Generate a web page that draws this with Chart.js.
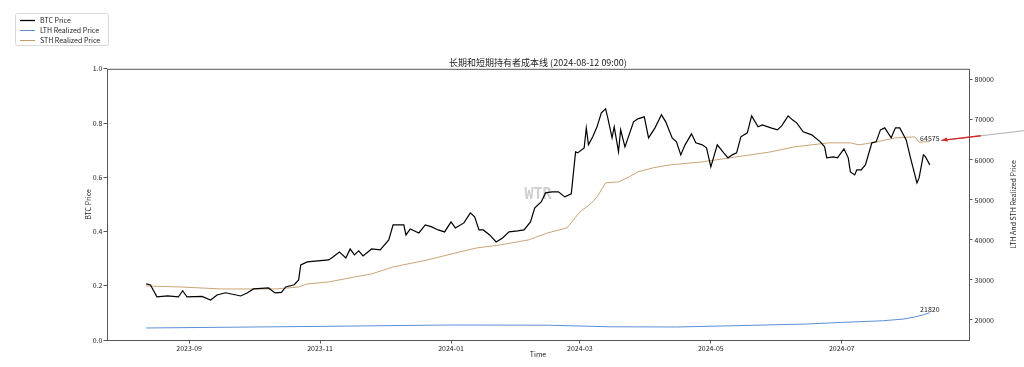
<!DOCTYPE html>
<html>
<head>
<meta charset="utf-8">
<script src="https://cdn.jsdelivr.net/npm/chart.js@4.4.1/dist/chart.umd.min.js"></script>
<style>
  body { margin: 0; background: #fff; }
  #wrap { width: 1024px; height: 367px; }
</style>
</head>
<body>
<div id="wrap"><canvas id="chart" width="1024" height="367"></canvas></div>
<script>
// BTC daily close (sampled)
const btcDates = [
  '2023-08-12','2023-08-14','2023-08-17','2023-08-22','2023-08-27','2023-08-29','2023-08-31','2023-09-07',
  '2023-09-11','2023-09-14','2023-09-18','2023-09-25','2023-09-28','2023-10-01','2023-10-08','2023-10-11',
  '2023-10-14','2023-10-16','2023-10-20','2023-10-22','2023-10-23','2023-10-26','2023-10-31','2023-11-05',
  '2023-11-07','2023-11-10','2023-11-13','2023-11-15','2023-11-17','2023-11-19','2023-11-21','2023-11-25',
  '2023-11-29','2023-12-03','2023-12-05','2023-12-10','2023-12-11','2023-12-13','2023-12-17','2023-12-20',
  '2023-12-23','2023-12-26','2023-12-29','2024-01-01','2024-01-03','2024-01-07','2024-01-10','2024-01-12',
  '2024-01-14','2024-01-16','2024-01-19','2024-01-22','2024-01-25','2024-01-28','2024-02-01','2024-02-04',
  '2024-02-07','2024-02-09','2024-02-12','2024-02-14','2024-02-17','2024-02-20','2024-02-23','2024-02-26',
  '2024-02-28','2024-02-29','2024-03-03','2024-03-04','2024-03-05','2024-03-07','2024-03-09','2024-03-11',
  '2024-03-13','2024-03-14','2024-03-16','2024-03-17','2024-03-19','2024-03-20','2024-03-22','2024-03-26',
  '2024-03-28','2024-03-31','2024-04-02','2024-04-05','2024-04-08','2024-04-10','2024-04-13','2024-04-15',
  '2024-04-17','2024-04-19','2024-04-22','2024-04-24','2024-04-27','2024-04-29','2024-05-01','2024-05-04',
  '2024-05-07','2024-05-09','2024-05-11','2024-05-13','2024-05-15','2024-05-18','2024-05-20','2024-05-23',
  '2024-05-25','2024-05-29','2024-06-01','2024-06-03','2024-06-06','2024-06-08','2024-06-10','2024-06-13',
  '2024-06-17','2024-06-21','2024-06-23','2024-06-24','2024-06-27','2024-06-29','2024-07-02','2024-07-04',
  '2024-07-05','2024-07-07','2024-07-08','2024-07-10','2024-07-12','2024-07-15','2024-07-17','2024-07-19',
  '2024-07-21','2024-07-24','2024-07-26','2024-07-28','2024-07-31','2024-08-02','2024-08-05','2024-08-06',
  '2024-08-08','2024-08-09','2024-08-11'
];
const btcValues = [
  29000,28750,25800,26000,25750,27300,25750,25900,
  25000,26250,26800,26000,26750,27750,28000,26750,
  26900,28250,28800,30000,33750,34500,34750,35000,
  35750,37000,35500,37750,36250,37250,36000,37750,
  37500,40000,43750,43750,41250,42750,41750,43750,
  43250,42500,42000,44500,43000,44250,46750,45750,
  42500,42500,41250,39500,40500,42000,42250,42500,
  44500,48000,49500,51750,52000,52000,50750,51500,
  62000,61750,63000,68000,63750,65750,68250,71750,
  72750,70500,65500,68250,62000,67500,63250,69500,
  70250,70750,65500,68000,71250,69500,65500,64500,
  61250,63750,66500,64250,63750,63000,58250,63750,
  61750,60500,61250,61750,65750,66750,71000,68250,
  68750,68000,67500,68500,71000,70000,69250,67000,
  66250,64500,63250,60500,60750,60500,62750,60500,
  57000,56250,57500,57500,58750,64250,64500,67500,
  68000,65500,68000,68000,65000,60500,54250,55500,
  61250,60750,58750
];

// Long-term holder realized price
const lthDates = ['2023-08-12','2023-11-01','2024-01-01','2024-02-15','2024-03-15','2024-04-15','2024-05-15',
  '2024-06-15','2024-07-01','2024-07-20','2024-07-30','2024-08-04','2024-08-08','2024-08-11'];
const lthValues = [18000,18400,18750,18700,18300,18250,18600,19000,19400,19800,20250,20750,21300,21820];

// Short-term holder realized price
const sthDates = ['2023-08-12','2023-08-28','2023-09-16','2023-09-30','2023-10-11','2023-10-17','2023-10-22',
  '2023-10-26','2023-11-05','2023-11-17','2023-11-25','2023-12-05','2023-12-21','2024-01-05','2024-01-13',
  '2024-01-24','2024-02-06','2024-02-15','2024-02-24','2024-02-27','2024-03-01','2024-03-06','2024-03-09',
  '2024-03-11','2024-03-13','2024-03-19','2024-03-24','2024-03-28','2024-04-04','2024-04-12','2024-04-27',
  '2024-05-13','2024-05-29','2024-06-09','2024-06-25','2024-07-05','2024-07-09','2024-07-15','2024-07-26',
  '2024-08-04','2024-08-06','2024-08-11'];
const sthValues = [28500,28250,27750,27750,27750,28000,28250,
  29000,29500,30750,31500,33250,35000,37000,38000,
  38750,40000,41750,43000,45000,47000,49000,50750,
  52500,54250,54500,55750,57000,58000,58750,59500,
  60750,62000,63250,64250,64250,63750,64250,65500,
  65750,64400,64575];

const xTickLabels = ['2023-09','2023-11','2024-01','2024-03','2024-05','2024-07'];
const yTicks = [0, 0.2, 0.4, 0.6, 0.8, 1.0];
const y1Ticks = [20000, 30000, 40000, 50000, 60000, 70000, 80000];

const seriesNames = ['BTC Price', 'LTH Realized Price', 'STH Realized Price'];
const seriesColors = ['#000000', '#5b8fd6', '#c49a66'];

const FONT = '"Noto Sans CJK SC", "DejaVu Sans", sans-serif';

const toDay = s => Date.UTC(+s.slice(0, 4), +s.slice(5, 7) - 1, +s.slice(8, 10)) / 86400000;
const toPoints = (dates, vals) => dates.map((d, i) => ({ x: toDay(d), y: vals[i] }));

const firstDay = toDay(btcDates[0]);
const lastDay = toDay(btcDates[btcDates.length - 1]);
const margin = (lastDay - firstDay) * 0.05;

// frame, legend, right axis title, watermark, end labels and arrow
const extras = {
  id: 'extras',
  beforeDatasetsDraw(chart) {
    const { ctx, chartArea: a } = chart;
    ctx.save();
    ctx.fillStyle = '#cfcfcf';
    ctx.font = 'bold 15px "DejaVu Sans Mono", monospace';
    ctx.textAlign = 'center';
    ctx.textBaseline = 'middle';
    ctx.fillText('WTR', (a.left + a.right) / 2, 195);
    ctx.restore();
  },
  afterDraw(chart) {
    const { ctx, chartArea: a, scales } = chart;
    ctx.save();
    // frame
    ctx.strokeStyle = '#555';
    ctx.lineWidth = 1;
    ctx.strokeRect(a.left + 0.5, a.top + 0.5, a.right - a.left, a.bottom - a.top);

    // legend
    ctx.fillStyle = '#fff';
    ctx.strokeStyle = '#d8d8d8';
    ctx.beginPath();
    ctx.roundRect(15.5, 13.5, 93, 32, 2);
    ctx.fill();
    ctx.stroke();
    ctx.font = '7px ' + FONT;
    ctx.textBaseline = 'middle';
    ctx.textAlign = 'left';
    seriesNames.forEach((name, i) => {
      const yy = 20.5 + i * 10;
      ctx.strokeStyle = seriesColors[i];
      ctx.lineWidth = i === 0 ? 1.3 : 1;
      ctx.beginPath();
      ctx.moveTo(20, yy);
      ctx.lineTo(35, yy);
      ctx.stroke();
      ctx.fillStyle = '#222';
      ctx.fillText(name, 40, yy);
    });

    // right axis title
    ctx.save();
    ctx.translate(1013, (a.top + a.bottom) / 2);
    ctx.rotate(-Math.PI / 2);
    ctx.textAlign = 'center';
    ctx.fillStyle = '#222';
    ctx.fillText('LTH And STH Realized Price', 0, 0);
    ctx.restore();

    // end labels
    const xs = scales.x, ys = scales.y1;
    const endLabel = (dates, vals) => {
      const px = xs.getPixelForValue(toDay(dates[dates.length - 1]));
      const py = ys.getPixelForValue(vals[vals.length - 1]);
      ctx.fillStyle = '#222';
      ctx.textAlign = 'center';
      ctx.textBaseline = 'bottom';
      ctx.fillText(String(vals[vals.length - 1]), px, py);
      return [px, py];
    };
    endLabel(lthDates, lthValues);
    const [sx, sy] = endLabel(sthDates, sthValues);

    // arrow pointing at the STH label
    const hx = sx + 11, hy = sy - 1;
    const tx = hx + 84, ty = hy - 10;
    ctx.strokeStyle = '#999';
    ctx.lineWidth = 0.8;
    ctx.beginPath();
    ctx.moveTo(hx, hy);
    ctx.lineTo(tx, ty);
    ctx.stroke();
    ctx.strokeStyle = '#d42a2a';
    ctx.lineWidth = 1.4;
    ctx.beginPath();
    ctx.moveTo(hx + 3, hy - 0.4);
    ctx.lineTo(hx + 40, hy - 4.8);
    ctx.stroke();
    ctx.fillStyle = '#d42a2a';
    ctx.beginPath();
    ctx.moveTo(hx, hy);
    ctx.lineTo(hx + 6, hy - 3);
    ctx.lineTo(hx + 7, hy + 1);
    ctx.closePath();
    ctx.fill();
    ctx.restore();
  }
};

const tickFont = { family: FONT, size: 7 };
const tickGrid = { drawOnChartArea: false, drawTicks: true, tickLength: 3.5, color: '#555' };

new Chart(document.getElementById('chart'), {
  type: 'line',
  data: {
    datasets: [
      { label: seriesNames[0], data: toPoints(btcDates, btcValues), borderColor: seriesColors[0], borderWidth: 1.2, yAxisID: 'y1' },
      { label: seriesNames[1], data: toPoints(lthDates, lthValues), borderColor: seriesColors[1], borderWidth: 1, yAxisID: 'y1' },
      { label: seriesNames[2], data: toPoints(sthDates, sthValues), borderColor: seriesColors[2], borderWidth: 0.9, yAxisID: 'y1' }
    ]
  },
  options: {
    responsive: false,
    animation: false,
    layout: { padding: 0 },
    elements: { point: { radius: 0 }, line: { tension: 0 } },
    plugins: {
      legend: { display: false },
      tooltip: { enabled: false },
      title: {
        display: true,
        text: '长期和短期持有者成本线 (2024-08-12 09:00)',
        fullSize: false,
        color: '#222',
        font: { family: FONT, size: 9, weight: 'normal' },
        padding: { top: 57, bottom: 1 }
      }
    },
    scales: {
      x: {
        type: 'linear',
        min: firstDay - margin,
        max: lastDay + margin,
        afterBuildTicks: s => { s.ticks = xTickLabels.map(l => ({ value: toDay(l + '-01') })); },
        afterFit: s => { s.height = 27; },
        ticks: {
          autoSkip: false, maxRotation: 0, padding: 1, color: '#222', font: tickFont,
          callback: v => xTickLabels.find(l => toDay(l + '-01') === v)
        },
        grid: tickGrid,
        border: { display: false },
        title: { display: true, text: 'Time', color: '#222', font: tickFont, padding: { top: 0, bottom: 8 } }
      },
      y: {
        position: 'left',
        min: 0,
        max: 1,
        afterBuildTicks: s => { s.ticks = yTicks.map(v => ({ value: v })); },
        afterFit: s => { s.width = 107; },
        ticks: { padding: 1, color: '#222', font: tickFont, callback: v => v.toFixed(1) },
        grid: tickGrid,
        border: { display: false },
        title: { display: true, text: 'BTC Price', color: '#222', font: tickFont, padding: { top: 84, bottom: 0 } }
      },
      y1: {
        position: 'right',
        min: 15000,
        max: 82750,
        afterBuildTicks: s => { s.ticks = y1Ticks.map(v => ({ value: v })); },
        afterFit: s => { s.width = 55; },
        ticks: { padding: 2, color: '#222', font: tickFont, callback: v => String(v) },
        grid: tickGrid,
        border: { display: false }
      }
    }
  },
  plugins: [extras]
});
</script>
</body>
</html>
